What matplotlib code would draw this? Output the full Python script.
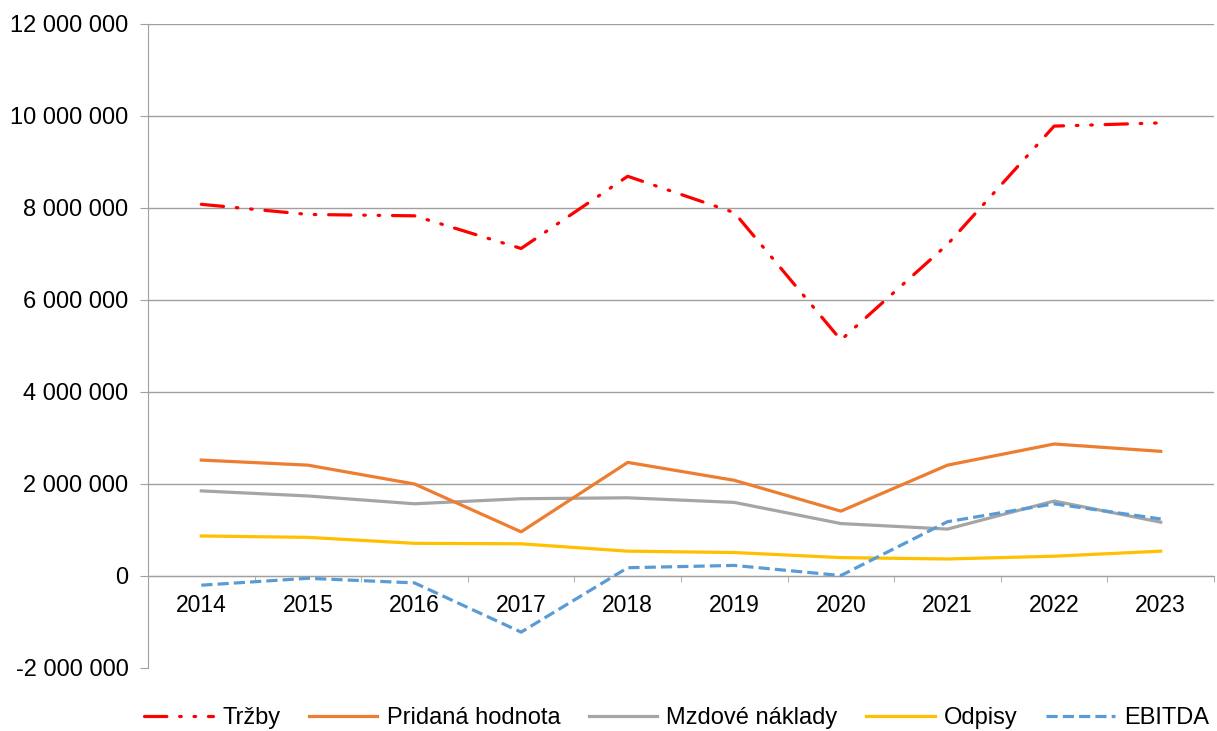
import matplotlib.pyplot as plt
from matplotlib.ticker import FuncFormatter

plt.rcParams['font.family'] = ['Liberation Sans', 'DejaVu Sans']

years = ['2014', '2015', '2016', '2017', '2018', '2019', '2020', '2021', '2022', '2023']
trzby = [8080000, 7860000, 7830000, 7120000, 8690000, 7900000, 5130000, 7210000, 9780000, 9850000]
pridana = [2520000, 2410000, 2000000, 960000, 2470000, 2080000, 1410000, 2410000, 2870000, 2710000]
mzdove = [1850000, 1740000, 1570000, 1680000, 1700000, 1600000, 1140000, 1020000, 1630000, 1170000]
odpisy = [870000, 840000, 710000, 700000, 540000, 510000, 400000, 370000, 430000, 540000]
ebitda = [-200000, -50000, -150000, -1220000, 180000, 230000, 10000, 1180000, 1570000, 1240000]

fig = plt.figure(figsize=(12.17, 7.31), dpi=100)
ax = fig.add_axes([148/1217, 1 - 668/731, (1214 - 148)/1217, (668 - 24)/731])

x = range(len(years))
lw = 2.3
ax.plot(x, trzby, color='#FF0000', lw=lw, dash_capstyle='round',
        linestyle=(0, (7, 4, 0.5, 4, 0.5, 4)), label='Tržby', zorder=5)
ax.plot(x, pridana, color='#ED7D31', lw=lw, label='Pridaná hodnota', zorder=4)
ax.plot(x, mzdove, color='#A5A5A5', lw=lw, label='Mzdové náklady', zorder=3)
ax.plot(x, odpisy, color='#FFC000', lw=lw, label='Odpisy', zorder=3)
ax.plot(x, ebitda, color='#5B9BD5', lw=lw, linestyle=(0, (3.5, 1.6)), label='EBITDA', zorder=4)

ax.set_xlim(-0.5, len(years) - 0.5)
ax.set_ylim(-2000000, 12000000)
ax.set_yticks(range(-2000000, 12000001, 2000000))
ax.yaxis.set_major_formatter(FuncFormatter(lambda v, p: f'{int(v):,}'.replace(',', ' ')))
# grid lines only from 0 upwards
for v in range(0, 12000001, 2000000):
    ax.axhline(v, color='#A0A0A0', lw=1, zorder=1)

ax.set_xticks(list(x))
ax.set_xticklabels(years)
ax.set_xticks([i + 0.5 for i in range(-1, len(years))], minor=True)
ax.tick_params(axis='x', which='major', length=0, pad=13, labelsize=16.5)
ax.tick_params(axis='x', which='minor', length=4.5, color='#A0A0A0', direction='out')
ax.tick_params(axis='y', length=6, color='#A0A0A0', labelsize=17, pad=8)

for s in ['top', 'right']:
    ax.spines[s].set_visible(False)
ax.spines['left'].set_color('#A0A0A0')
ax.spines['bottom'].set_color('#A0A0A0')
ax.spines['bottom'].set_position(('data', 0))

fig.legend(loc='center', ncol=5, frameon=False, fontsize=17,
           bbox_to_anchor=(0.556, 1 - 718/731), handlelength=2.9, columnspacing=1.2,
           handletextpad=0.4)

fig.savefig('out.png', dpi=100)
